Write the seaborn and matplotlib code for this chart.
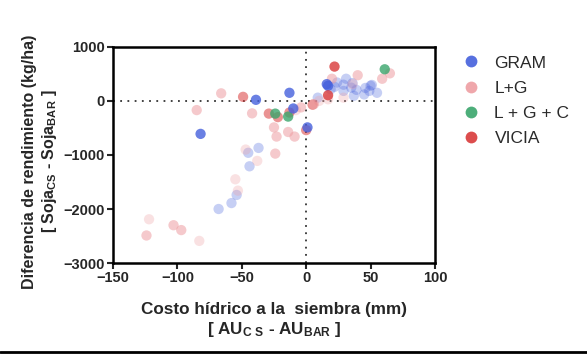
import pandas as pd
import seaborn as sns
import matplotlib.pyplot as plt
from matplotlib.lines import Line2D

# water cost at sowing (mm) vs soybean yield difference (kg/ha)
gram_x = [-82, -39, -13, -10, 1, 16, 17]
gram_y = [-610, 20, 150, -140, -490, 310, 280]
gram_faint_x = [-68, -58, -54, -44, -45, -37, 9, 19, 24, 31, 29, 37, 45, 49, 50,
                35, 22, 29, 36, 39, 46, 51, 55]
gram_faint_y = [-2000, -1890, -1740, -1210, -960, -870, 60, 215, 340, 410, 185, 95,
                120, 185, 280, 245, 260, 300, 330, 205, 240, 295, 150]

lg_x = [-124, -103, -97, -85, -66, -42, -25, -23, -24, -14, -9, -4, 6, 20, 40, 59, 65]
lg_y = [-2490, -2300, -2390, -170, 140, -230, -490, -660, -975, -575, -660, -120,
        -60, 410, 475, 410, 510]
lg_faint_x = [-122, -83, -47, -38, -55, -53, 10, 36, 29, 17, -8]
lg_faint_y = [-2190, -2590, -900, -1110, -1450, -1660, 0, 310, 60, 30, -170]

lgc_x = [-24, -14, 61]
lgc_y = [-235, -290, 585]

vicia_x = [22, 17]
vicia_y = [635, 105]
vicia_faint_x = [-49, -29, -22, -13, 0, 5]
vicia_faint_y = [75, -235, -300, -215, -540, -70]

groups = ['GRAM', 'L+G', 'L + G + C', 'VICIA']
palette = {'GRAM': '#4560dc', 'L+G': '#ee9ea2', 'L + G + C': '#3aa56c', 'VICIA': '#d93a3a'}

rows = []
def add(xs, ys, group, tier):
    for a, b in zip(xs, ys):
        rows.append({'x': a, 'y': b, 'group': group, 'tier': tier})

add(gram_faint_x, gram_faint_y, 'GRAM', 'faint')
add(lg_faint_x, lg_faint_y, 'L+G', 'faint')
add(vicia_faint_x, vicia_faint_y, 'VICIA', 'mid')
add(lg_x, lg_y, 'L+G', 'mid')
add(lgc_x, lgc_y, 'L + G + C', 'strong')
add(gram_x, gram_y, 'GRAM', 'strong')
add(vicia_x, vicia_y, 'VICIA', 'strong')
df = pd.DataFrame(rows)

sns.set_style('ticks')
plt.rcParams['font.family'] = ['Liberation Sans', 'DejaVu Sans']
plt.rcParams['mathtext.default'] = 'regular'

fig = plt.figure(figsize=(5.87, 3.55), dpi=100)
ax = fig.add_axes([0.1925, 0.259, 0.5485, 0.609])

alphas = {'faint': 0.3, 'mid': 0.55, 'strong': 0.8}
ax.axhline(0, color='#333333', ls=(0, (1, 3)), lw=1.3, zorder=1)
ax.axvline(0, ymax=0.98, color='#333333', ls=(0, (1, 3)), lw=1.3, zorder=1)
for tier in ['faint', 'mid', 'strong']:
    sub = df[df['tier'] == tier]
    sns.scatterplot(data=sub, x='x', y='y', hue='group', palette=palette, ax=ax,
                    s=55, alpha=alphas[tier], edgecolor='none', legend=False, zorder=3)

ax.set_xlim(-150, 100)
ax.set_ylim(-3000, 1000)
ax.set_xticks([-150, -100, -50, 0, 50, 100])
ax.set_yticks([-3000, -2000, -1000, 0, 1000])
for sp in ax.spines.values():
    sp.set_linewidth(1.8)
    sp.set_color('black')
ax.tick_params(width=1.5, length=4, labelsize=10.5, pad=2)
for lab in ax.get_xticklabels() + ax.get_yticklabels():
    lab.set_fontweight('bold')

ax.set_xlabel('Costo hídrico a la  siembra (mm)\n' + r'[ AU$_{C\ S}$ - AU$_{BAR}$ ]',
              fontsize=12.3, fontweight='bold', labelpad=12, linespacing=1.2)
ax.set_ylabel('Diferencia de rendimiento (kg/ha)\n' + r'[ Soja$_{CS}$ - Soja$_{BAR}$ ]',
              fontsize=11.5, fontweight='bold', labelpad=5, linespacing=1.2)
ax.yaxis.set_label_coords(-0.168, 0.47)

handles = [Line2D([], [], marker='o', ls='none', markersize=8.5, markeredgecolor='none',
                  markerfacecolor=palette[g], alpha=0.9) for g in groups]
leg = fig.legend(handles, groups, loc='upper left', bbox_to_anchor=(0.758, 0.888),
                 frameon=False, fontsize=12.5, handletextpad=0.75, labelspacing=0.57,
                 handlelength=1.2)
for t in leg.get_texts():
    t.set_color('#2a2a2a')

fig.add_artist(Line2D([0, 1], [0.008, 0.008], color='black', lw=2, transform=fig.transFigure))

fig.savefig('out.png', dpi=100)
